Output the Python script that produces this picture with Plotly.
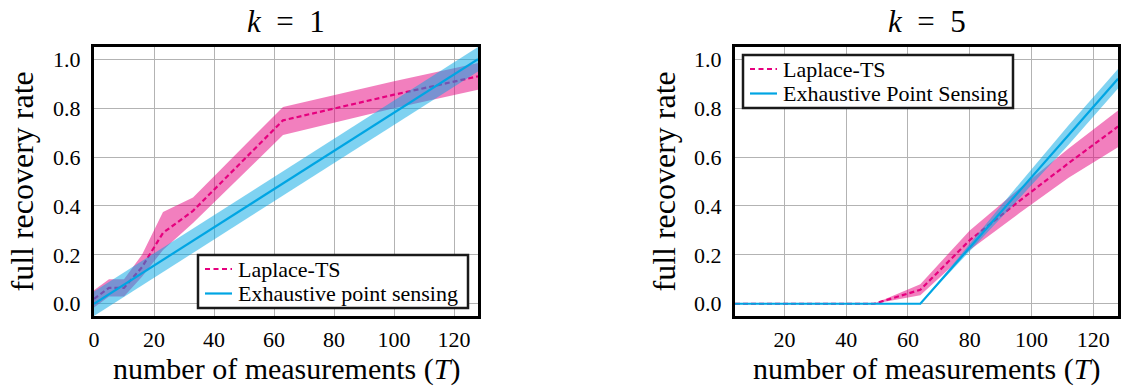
import plotly.graph_objects as go

# ---------------- data ----------------
# k = 1
T_k1 = [0, 5, 10, 16, 23, 33, 63, 100, 128]
lap_k1_mean = [0.02, 0.065, 0.065, 0.15, 0.29, 0.38, 0.75, 0.855, 0.93]
lap_k1_upper = [0.055, 0.10, 0.10, 0.20, 0.375, 0.435, 0.805, 0.91, 0.985]
lap_k1_lower = [-0.015, 0.03, 0.03, 0.11, 0.22, 0.33, 0.69, 0.80, 0.875]
eps_k1_mean = [0.0, 0.039, 0.078, 0.125, 0.18, 0.258, 0.492, 0.781, 1.0]
eps_k1_upper = [0.05, 0.089, 0.128, 0.175, 0.23, 0.308, 0.542, 0.831, 1.05]
eps_k1_lower = [-0.05, -0.011, 0.028, 0.075, 0.13, 0.208, 0.442, 0.731, 0.95]

# k = 5
T_k5 = [4, 16, 32, 49, 64, 80, 96, 112, 128]
lap_k5_mean = [0, 0, 0, 0, 0.057, 0.26, 0.42, 0.575, 0.725]
lap_k5_upper = [0, 0, 0, 0, 0.08, 0.30, 0.47, 0.635, 0.79]
lap_k5_lower = [0, 0, 0, 0, 0.035, 0.22, 0.37, 0.515, 0.64]
eps_k5_mean = [0, 0, 0, 0, 0, 0.23, 0.46, 0.69, 0.92]
eps_k5_upper = [0, 0, 0, 0, 0, 0.245, 0.49, 0.73, 0.96]
eps_k5_lower = [0, 0, 0, 0, 0, 0.215, 0.43, 0.65, 0.88]

x_ticks_k1 = [0, 20, 40, 60, 80, 100, 120]
x_ticks_k5 = [20, 40, 60, 80, 100, 120]
y_ticks = [0.0, 0.2, 0.4, 0.6, 0.8, 1.0]
y_tick_text = ["0.0", "0.2", "0.4", "0.6", "0.8", "1.0"]

titles = ["<i>k</i>\u2002=\u20021", "<i>k</i>\u2002=\u20025"]
legend_names_k1 = ["Laplace-TS", "Exhaustive point sensing"]
legend_names_k5 = ["Laplace-TS", "Exhaustive Point Sensing"]

# ---------------- style ----------------
FONT = "Liberation Serif, Times New Roman, serif"
PINK = "#E6007E"
PINK_FILL = "rgba(230,0,126,0.5)"
BLUE = "#00A5E3"
BLUE_FILL = "rgba(0,165,227,0.5)"

W, H = 1124, 387


def fx(px):
    return px / W


def fy(py):
    return 1 - py / H


fig = go.Figure()


def add_panel(T, lm, lu, ll, em, eu, el, xa, ya, names):
    fig.add_trace(go.Scatter(
        x=T + T[::-1], y=lu + ll[::-1], fill="toself", fillcolor=PINK_FILL,
        line=dict(width=0), mode="lines", showlegend=False, hoverinfo="skip",
        xaxis=xa, yaxis=ya))
    fig.add_trace(go.Scatter(
        x=T, y=lm, mode="lines", name=names[0], showlegend=False,
        line=dict(color=PINK, width=2.2, dash="5px,3px"),
        xaxis=xa, yaxis=ya))
    fig.add_trace(go.Scatter(
        x=T + T[::-1], y=eu + el[::-1], fill="toself", fillcolor=BLUE_FILL,
        line=dict(width=0), mode="lines", showlegend=False, hoverinfo="skip",
        xaxis=xa, yaxis=ya))
    fig.add_trace(go.Scatter(
        x=T, y=em, mode="lines", name=names[1], showlegend=False,
        line=dict(color=BLUE, width=2.2),
        xaxis=xa, yaxis=ya))


add_panel(T_k1, lap_k1_mean, lap_k1_upper, lap_k1_lower,
          eps_k1_mean, eps_k1_upper, eps_k1_lower, "x", "y", legend_names_k1)
add_panel(T_k5, lap_k5_mean, lap_k5_upper, lap_k5_lower,
          eps_k5_mean, eps_k5_upper, eps_k5_lower, "x2", "y2", legend_names_k5)

dom1 = [fx(94), fx(478)]
dom2 = [fx(735), fx(1118)]
ydom = [fy(316), fy(47)]

axis_common = dict(
    showgrid=True, gridcolor="#b3b3b3", gridwidth=1, zeroline=False,
    showline=True, mirror=True, linewidth=3, linecolor="black",
    ticks="outside", tickcolor="rgba(0,0,0,0)", automargin=False,
    tickfont=dict(family=FONT, size=22, color="black"),
)

fig.update_layout(
    width=W, height=H,
    margin=dict(l=0, r=0, t=0, b=0, autoexpand=False),
    paper_bgcolor="white", plot_bgcolor="white",
    font=dict(family=FONT, color="black"),
    showlegend=False,
    xaxis=dict(domain=dom1, range=[0, 128], tickvals=x_ticks_k1, anchor="y",
               ticklen=2, **axis_common),
    yaxis=dict(domain=ydom, range=[-0.05, 1.05], tickvals=y_ticks, ticktext=y_tick_text,
               anchor="x", ticklen=6, **axis_common),
    xaxis2=dict(domain=dom2, range=[4, 128], tickvals=x_ticks_k5, anchor="y2",
                ticklen=2, **axis_common),
    yaxis2=dict(domain=ydom, range=[-0.05, 1.05], tickvals=y_ticks, ticktext=y_tick_text,
                anchor="x2", ticklen=6, **axis_common),
)

annots = []
shapes = []
for d, t in zip([dom1, dom2], titles):
    cx = (d[0] + d[1]) / 2
    annots.append(dict(text=t, x=cx, y=fy(22), xref="paper", yref="paper",
                       xanchor="center", yanchor="middle", showarrow=False,
                       font=dict(family=FONT, size=31, color="black")))
    annots.append(dict(text="number of measurements (<i>T</i>)", x=cx, y=fy(369),
                       xref="paper", yref="paper", xanchor="center", yanchor="middle",
                       showarrow=False, font=dict(family=FONT, size=30, color="black")))
for xc in (22, 664):
    annots.append(dict(text="full recovery rate", x=fx(xc), y=(ydom[0] + ydom[1]) / 2,
                       xref="paper", yref="paper", xanchor="center", yanchor="middle",
                       textangle=-90, showarrow=False,
                       font=dict(family=FONT, size=32, color="black")))


# legends (box, line samples, labels), positioned in window pixels
def add_legend(x0, y0, x1, y1, names):
    shapes.append(dict(type="rect", xref="paper", yref="paper", layer="above",
                       x0=fx(x0), x1=fx(x1), y0=fy(y1), y1=fy(y0),
                       fillcolor="white", line=dict(color="#1a1a1a", width=2.5)))
    rows = [y0 + 14, y0 + 38.5]
    styles = [dict(color=PINK, width=2.2, dash="5px,3.5px"), dict(color=BLUE, width=2.2)]
    for ry, st, nm in zip(rows, styles, names):
        shapes.append(dict(type="line", xref="paper", yref="paper", layer="above",
                           x0=fx(x0 + 7), x1=fx(x0 + 34), y0=fy(ry), y1=fy(ry), line=st))
        annots.append(dict(text=nm, x=fx(x0 + 38), y=fy(ry), xref="paper", yref="paper",
                           xanchor="left", yanchor="middle", showarrow=False,
                           font=dict(family=FONT, size=22, color="black")))


add_legend(198, 255, 468, 308, legend_names_k1)
add_legend(743, 55, 1013, 108, legend_names_k5)

fig.update_layout(annotations=annots, shapes=shapes)

# the page body has a default 8px margin; remove it so the figure fills the window
fig.write_html("out.html", config={"displayModeBar": False},
               post_script="document.body.style.margin='0px';")
